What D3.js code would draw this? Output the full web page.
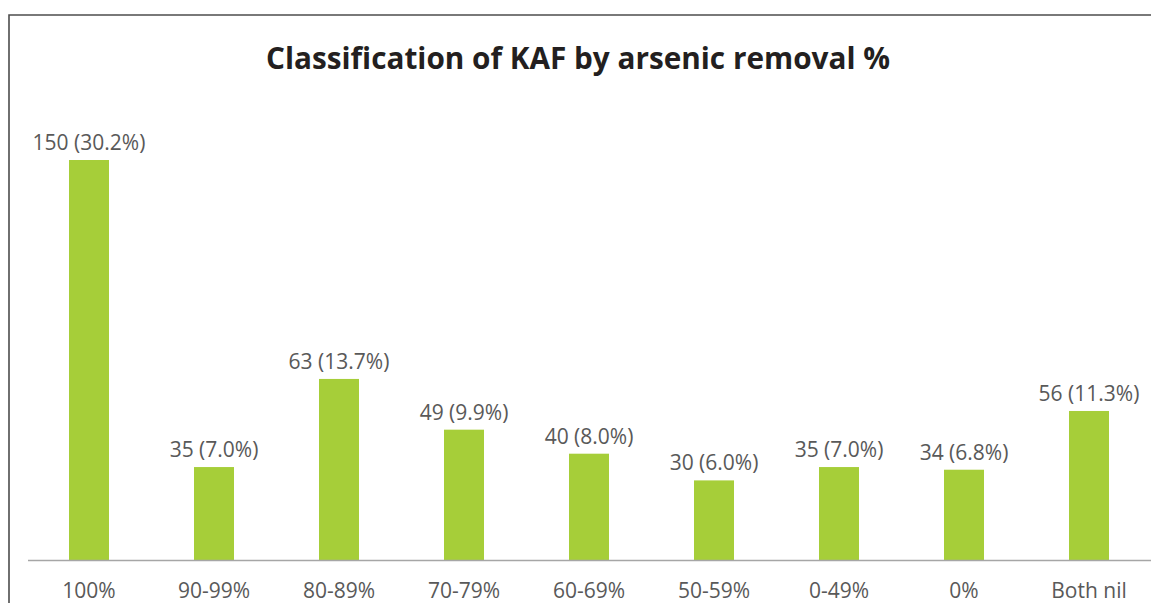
<!DOCTYPE html>
<html>
<head>
<meta charset="utf-8">
<script src="https://cdn.jsdelivr.net/npm/d3@7"></script>
<style>
  body { margin: 0; background: #fff; }
  svg { display: block; }
</style>
</head>
<body>
<div id="chart"></div>
<script>
var categories = ['100%', '90-99%', '80-89%', '70-79%', '60-69%', '50-59%', '0-49%', '0%', 'Both nil'];
// bar heights as drawn (the 80-89% bar is drawn at ~68, matching 13.7%)
var barValues = [150, 35, 68, 49, 40, 30, 35, 34, 56];
// counts as printed in the labels
var counts = [150, 35, 63, 49, 40, 30, 35, 34, 56];
var percents = ['30.2%', '7.0%', '13.7%', '9.9%', '8.0%', '6.0%', '7.0%', '6.8%', '11.3%'];
var titleText = 'Classification of KAF by arsenic removal %';

var width = 1151, height = 603;
var baseY = 560.5;

var svg = d3.select('#chart').append('svg')
    .attr('width', width)
    .attr('height', height);

// frame (top and left edges only)
svg.append('path')
    .attr('d', 'M9,603 L9,15 L1151,15')
    .attr('fill', 'none')
    .attr('stroke', '#4d4d4d')
    .attr('stroke-width', 1.6);

var xScale = d3.scaleBand()
    .domain(categories)
    .range([26.5, 1151.5])
    .paddingInner(0.68)
    .paddingOuter(0.34);

var yScale = d3.scaleLinear()
    .domain([0, 150])
    .range([baseY, 160]);

var rows = categories.map(function(c, i) {
    return { key: c, value: barValues[i], count: counts[i], pct: percents[i] };
});

// title
svg.append('text')
    .attr('x', 578)
    .attr('y', 69)
    .attr('text-anchor', 'middle')
    .attr('font-family', 'Open Sans, sans-serif')
    .attr('font-weight', 'bold')
    .attr('font-size', 31)
    .attr('fill', '#231f20')
    .attr('textLength', 624)
    .attr('lengthAdjust', 'spacingAndGlyphs')
    .text(titleText);

// bars
svg.append('g').selectAll('rect')
    .data(rows).enter()
    .append('rect')
    .attr('x', function(d) { return xScale(d.key); })
    .attr('width', xScale.bandwidth())
    .attr('y', function(d) { return yScale(d.value); })
    .attr('height', function(d) { return baseY - yScale(d.value); })
    .attr('fill', '#a6ce39');

// baseline
svg.append('line')
    .attr('x1', 28).attr('x2', 1151)
    .attr('y1', baseY).attr('y2', baseY)
    .attr('stroke', '#a6a6a6')
    .attr('stroke-width', 1.5);

// value labels
svg.append('g').selectAll('text')
    .data(rows).enter()
    .append('text')
    .attr('x', function(d) { return xScale(d.key) + xScale.bandwidth() / 2; })
    .attr('y', function(d) { return yScale(d.value) - 10; })
    .attr('text-anchor', 'middle')
    .attr('font-family', 'Open Sans, sans-serif')
    .attr('font-size', 21)
    .attr('fill', '#595959')
    .text(function(d) { return d.count + ' (' + d.pct + ')'; });

// category labels
svg.append('g').selectAll('text')
    .data(rows).enter()
    .append('text')
    .attr('x', function(d) { return xScale(d.key) + xScale.bandwidth() / 2; })
    .attr('y', 598)
    .attr('text-anchor', 'middle')
    .attr('font-family', 'Open Sans, sans-serif')
    .attr('font-size', 21)
    .attr('fill', '#595959')
    .text(function(d) { return d.key; });
</script>
</body>
</html>
